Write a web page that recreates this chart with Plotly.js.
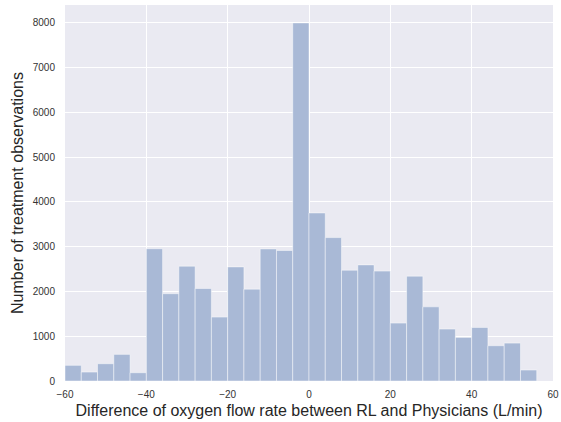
<!DOCTYPE html>
<html>
<head>
<meta charset="utf-8">
<script src="https://cdn.plot.ly/plotly-3.0.1.min.js"></script>
<style>html,body{margin:0;padding:0;background:#fff;}#chart{width:561px;height:422px;}</style>
</head>
<body>
<div id="chart"></div>
<script>
// Left edges of the 4 L/min bins
const binStarts = [-60,-56,-52,-48,-44,-40,-36,-32,-28,-24,-20,-16,-12,-8,-4,0,4,8,12,16,20,24,28,32,36,40,44,48,52];
const binWidth = 4;
// Number of treatment observations in each bin
const counts = [350,200,386,595,185,2955,1950,2565,2067,1427,2549,2052,2951,2915,8000,3754,3204,2475,2594,2455,1293,2342,1657,1160,974,1197,788,847,245];
const xTicks = [-60,-40,-20,0,20,40,60];
const yTicks = [0,1000,2000,3000,4000,5000,6000,7000,8000];

const trace = {
  type: 'bar',
  x: binStarts,
  y: counts,
  width: binStarts.map(() => binWidth),
  offset: 0,
  marker: {color: 'rgb(169,185,214)', line: {color: 'rgba(255,255,255,0.45)', width: 1}},
  hoverinfo: 'x+y'
};

const layout = {
  width: 561, height: 422,
  margin: {l: 65, r: 8, t: 5, b: 41},
  paper_bgcolor: '#ffffff',
  plot_bgcolor: '#EAEAF2',
  bargap: 0,
  showlegend: false,
  font: {family: 'Liberation Sans, Arial, sans-serif', color: '#262626'},
  xaxis: {
    range: [-60, 60],
    tickvals: xTicks,
    ticktext: xTicks.map(v => v < 0 ? '\u2212' + Math.abs(v) : String(v)),
    tickfont: {size: 10, color: '#333333'},
    ticks: 'outside', ticklen: 4, tickcolor: 'rgba(0,0,0,0)',
    showgrid: true, gridcolor: '#ffffff', gridwidth: 1,
    zeroline: false, showline: false,
    title: {text: 'Difference of oxygen flow rate between RL and Physicians (L/min)', font: {size: 16, color: '#262626'}, standoff: 5}
  },
  yaxis: {
    range: [0, 8400],
    tickvals: yTicks,
    tickfont: {size: 10, color: '#333333'},
    ticks: 'outside', ticklen: 7, tickcolor: 'rgba(0,0,0,0)',
    showgrid: true, gridcolor: '#ffffff', gridwidth: 1,
    zeroline: false, showline: false,
    title: {text: 'Number of treatment observations', font: {size: 16, color: '#262626'}, standoff: 5}
  }
};

Plotly.newPlot('chart', [trace], layout, {displayModeBar: false, staticPlot: true});
</script>
</body>
</html>
